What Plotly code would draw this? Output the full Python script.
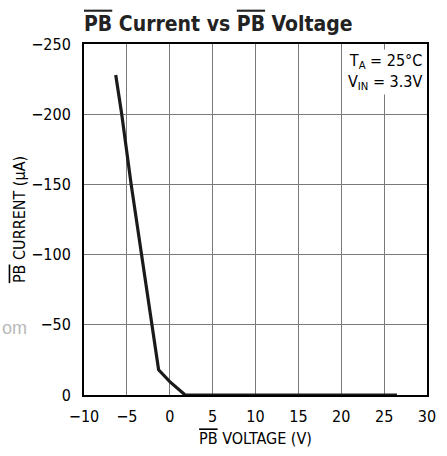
import plotly.graph_objects as go

# PB pin current vs PB pin voltage
voltage = [-6.3, -5.6, -4.5, -3.3, -2.1, -1.3, 0.0, 1.8, 26.5]
current = [-228, -200, -150, -100, -50, -18, -9.5, 0, 0]

x_ticks = [-10, -5, 0, 5, 10, 15, 20, 25, 30]
y_ticks = [-250, -200, -150, -100, -50, 0]

FONT = "DejaVu Sans Condensed, sans-serif"
OL = '<span style="text-decoration:overline">PB</span>'

fig = go.Figure(
    go.Scatter(
        x=voltage, y=current, mode="lines",
        line=dict(color="#1a1a1a", width=3.2),
        hoverinfo="skip",
    )
)

axis_common = dict(
    showgrid=True, gridcolor="#7a7a7a", gridwidth=1.3,
    showline=True, linecolor="black", linewidth=2, mirror=True,
    zeroline=False, ticks="", tickfont=dict(family=FONT, size=16, color="black"),
)

fig.update_xaxes(
    range=[-10, 30], tickvals=x_ticks, ticklabelstandoff=6,
    title=dict(text=f"{OL} VOLTAGE (V)", font=dict(family=FONT, size=16, color="black"), standoff=8),
    **axis_common,
)
fig.update_yaxes(
    range=[0, -250], tickvals=y_ticks, ticklabelstandoff=8,
    title=dict(text=f"{OL} CURRENT (µA)", font=dict(family=FONT, size=16, color="black"), standoff=2),
    **axis_common,
)

fig.add_annotation(
    x=1, y=1, xref="paper", yref="paper", xanchor="right", yanchor="top",
    text="T<sub>A</sub> = 25°C<br>V<sub>IN</sub> = 3.3V",
    showarrow=False, align="right", bgcolor="white",
    font=dict(family=FONT, size=16, color="black"), xshift=-3, yshift=-5,
)
fig.add_annotation(
    x=0, y=0.5, xref="paper", yref="paper", xanchor="left", yanchor="middle",
    text="om", showarrow=False, font=dict(family="Arial, sans-serif", size=18, color="#b8b8b8"),
    xshift=-84, yshift=-108,
)

fig.update_layout(
    width=447, height=456,
    title=dict(
        text=f"<b>{OL} Current vs {OL} Voltage</b>",
        x=0, xref="paper", xanchor="left", y=0.965, yanchor="top",
        font=dict(family=FONT, size=21, color="#222"),
    ),
    margin=dict(l=84, r=11, t=44, b=61),
    plot_bgcolor="white", paper_bgcolor="white",
    showlegend=False,
)

fig.write_html(
    "out.html",
    config={"displayModeBar": False},
    post_script="document.body.style.margin='0';",
)
